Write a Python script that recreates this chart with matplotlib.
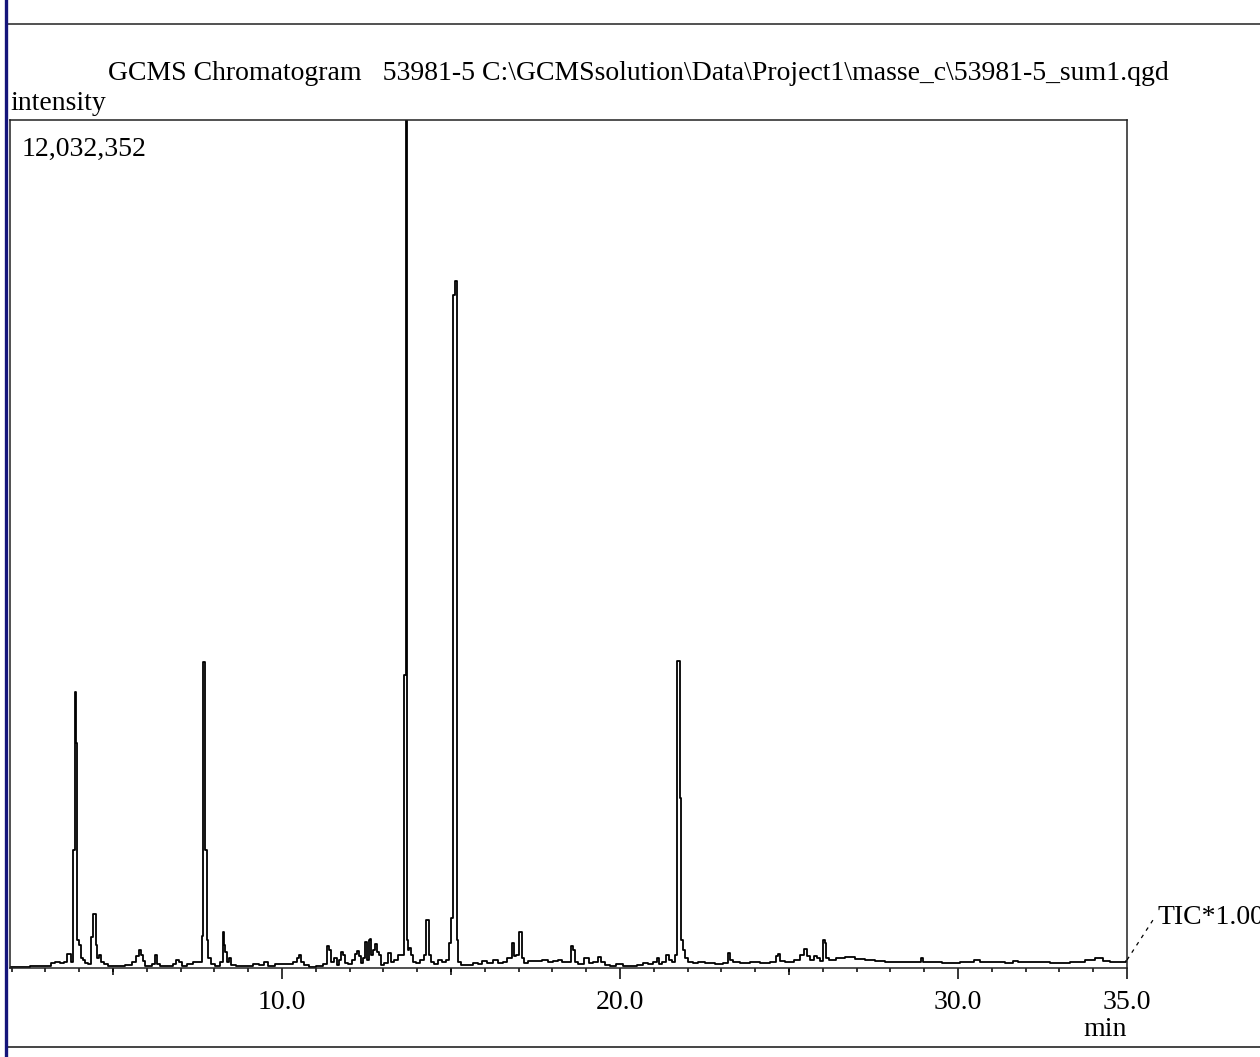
import matplotlib
matplotlib.use("Agg")
import matplotlib.pyplot as plt
from matplotlib.lines import Line2D
from matplotlib.ticker import FixedLocator, NullFormatter

# (retention time in min, TIC intensity)
trace = [
    (1.95, 14000), (3.14, 28000), (3.20, 71000), (3.37, 85000), (3.49, 71000),
    (3.61, 85000), (3.64, 199000), (3.73, 199000), (3.76, 85000), (3.79, 85000),
    (3.82, 1674000), (3.85, 1674000), (3.88, 3916000), (3.91, 3193000),
    (3.93, 3193000), (3.96, 397000), (4.02, 326000), (4.08, 142000),
    (4.14, 114000), (4.20, 71000), (4.32, 57000), (4.38, 440000), (4.41, 766000),
    (4.47, 766000), (4.50, 326000), (4.56, 142000), (4.62, 184000), (4.67, 85000),
    (4.79, 57000), (4.91, 28000), (5.21, 28000), (5.50, 43000), (5.62, 85000),
    (5.74, 170000), (5.80, 255000), (5.86, 184000), (5.92, 99000), (5.98, 28000),
    (6.09, 28000), (6.21, 57000), (6.27, 184000), (6.30, 57000), (6.45, 28000),
    (6.69, 28000), (6.83, 57000), (6.92, 114000), (6.98, 85000), (7.10, 28000),
    (7.28, 57000), (7.43, 85000), (7.57, 85000), (7.63, 85000), (7.66, 454000),
    (7.69, 4342000), (7.72, 1674000), (7.75, 1674000), (7.78, 397000),
    (7.84, 142000), (7.93, 57000), (8.11, 28000), (8.22, 85000), (8.28, 511000),
    (8.31, 326000), (8.34, 227000), (8.40, 85000), (8.46, 142000), (8.52, 43000),
    (8.76, 28000), (9.05, 28000), (9.23, 57000), (9.41, 43000), (9.53, 85000),
    (9.64, 28000), (9.94, 57000), (10.24, 57000), (10.41, 85000), (10.47, 142000),
    (10.53, 184000), (10.59, 85000), (10.71, 43000), (10.89, 14000),
    (11.12, 28000), (11.30, 57000), (11.36, 312000), (11.42, 255000),
    (11.48, 85000), (11.60, 142000), (11.66, 43000), (11.72, 114000),
    (11.78, 227000), (11.83, 184000), (11.89, 71000), (12.01, 57000),
    (12.13, 114000), (12.19, 199000), (12.25, 241000), (12.31, 170000),
    (12.37, 71000), (12.43, 142000), (12.49, 369000), (12.54, 114000),
    (12.60, 397000), (12.63, 411000), (12.66, 184000), (12.72, 255000),
    (12.78, 341000), (12.84, 227000), (12.90, 184000), (12.96, 43000),
    (13.08, 71000), (13.17, 213000), (13.25, 85000), (13.37, 114000),
    (13.49, 184000), (13.58, 184000), (13.61, 4157000), (13.64, 4157000),
    (13.67, 12032000), (13.70, 397000), (13.73, 255000), (13.79, 284000),
    (13.85, 184000), (13.91, 85000), (14.02, 71000), (14.14, 114000),
    (14.23, 184000), (14.29, 681000), (14.32, 681000), (14.35, 184000),
    (14.44, 85000), (14.56, 57000), (14.67, 114000), (14.79, 85000),
    (14.91, 114000), (14.97, 355000), (15.03, 709000), (15.06, 9549000),
    (15.09, 9549000), (15.12, 9748000), (15.15, 9748000), (15.18, 397000),
    (15.24, 85000), (15.33, 43000), (15.56, 43000), (15.74, 71000),
    (15.86, 57000), (15.98, 99000), (16.15, 71000), (16.33, 114000),
    (16.45, 71000), (16.60, 85000), (16.69, 142000), (16.78, 142000),
    (16.83, 355000), (16.89, 170000), (16.98, 184000), (17.07, 511000),
    (17.10, 142000), (17.22, 71000), (17.34, 99000), (17.63, 99000),
    (17.78, 114000), (17.93, 85000), (18.11, 99000), (18.22, 114000),
    (18.37, 85000), (18.52, 85000), (18.58, 312000), (18.64, 255000),
    (18.70, 85000), (18.82, 57000), (19.05, 142000), (19.11, 71000),
    (19.29, 85000), (19.38, 156000), (19.47, 85000), (19.64, 43000),
    (19.76, 28000), (20.00, 57000), (20.15, 28000), (20.44, 28000),
    (20.59, 43000), (20.74, 71000), (20.89, 57000), (21.04, 85000),
    (21.12, 142000), (21.18, 57000), (21.30, 85000), (21.42, 184000),
    (21.48, 114000), (21.60, 85000), (21.66, 184000), (21.72, 4356000),
    (21.75, 4356000), (21.78, 2412000), (21.80, 2412000), (21.83, 397000),
    (21.89, 255000), (21.95, 142000), (22.07, 85000), (22.25, 71000),
    (22.37, 85000), (22.66, 71000), (22.96, 57000), (23.14, 71000),
    (23.22, 213000), (23.28, 114000), (23.40, 85000), (23.70, 71000),
    (23.99, 85000), (24.29, 71000), (24.59, 85000), (24.64, 170000),
    (24.70, 199000), (24.76, 99000), (25.03, 85000), (25.27, 114000),
    (25.38, 184000), (25.50, 270000), (25.56, 170000), (25.68, 114000),
    (25.77, 170000), (25.86, 142000), (25.98, 99000), (26.04, 397000),
    (26.07, 355000), (26.12, 142000), (26.27, 114000), (26.51, 142000),
    (26.80, 156000), (27.10, 128000), (27.40, 114000), (27.69, 99000),
    (27.99, 85000), (28.28, 85000), (28.58, 85000), (28.88, 85000),
    (28.93, 142000), (28.99, 85000), (29.32, 85000), (29.76, 71000),
    (30.36, 85000), (30.59, 114000), (30.71, 85000), (31.24, 85000),
    (31.54, 71000), (31.72, 99000), (31.83, 85000), (32.43, 85000),
    (33.02, 71000), (33.61, 85000), (33.91, 114000), (34.20, 142000),
    (34.38, 99000), (34.62, 85000), (34.97, 85000), (35.00, 99000),
]
rt_min = [p[0] for p in trace]
tic = [p[1] for p in trace]

full_scale = 12032352
x_range = (1.95, 35.0)
major_ticks = [10.0, 20.0, 30.0, 35.0]
mid_ticks = [5.0, 15.0, 25.0]
minor_ticks = list(range(2, 36))

title = "GCMS Chromatogram   53981-5 C:\\GCMSsolution\\Data\\Project1\\masse_c\\53981-5_sum1.qgd"

W, H = 1260, 1057
plt.rcParams['font.family'] = ['Liberation Serif', 'DejaVu Serif']
FS = 20


def fx(px):
    return px / W


def fy(py):
    return 1 - py / H


fig = plt.figure(figsize=(W / 100, H / 100), dpi=100)
ax = fig.add_axes([fx(10), fy(968), fx(1127) - fx(10), fy(120) - fy(968)])

ax.plot(rt_min, tic, color='black', lw=1.3, drawstyle='steps-mid')
ax.set_xlim(*x_range)
ax.set_ylim(0, full_scale)

for s in ax.spines.values():
    s.set_color('#222222')
    s.set_linewidth(1.1)

ax.yaxis.set_visible(False)
ax.xaxis.set_major_locator(FixedLocator(major_ticks))
ax.xaxis.set_minor_locator(FixedLocator(minor_ticks))
ax.xaxis.set_minor_formatter(NullFormatter())
ax.set_xticklabels([f"{t:.1f}" for t in major_ticks])
ax.tick_params(axis='x', which='major', length=8, width=1.1, pad=8, labelsize=FS)
ax.tick_params(axis='x', which='minor', length=3, width=1.1)

sec = ax.secondary_xaxis('bottom')
sec.xaxis.set_major_locator(FixedLocator(mid_ticks))
sec.xaxis.set_major_formatter(NullFormatter())
sec.tick_params(length=5, width=1.1)
sec.spines['bottom'].set_visible(False)

ax.text(0.01, 0.965, f"{full_scale:,}", transform=ax.transAxes, fontsize=FS,
        ha='left', va='center')

fig.text(fx(108), fy(74), title, fontsize=FS, ha='left', va='center')
fig.text(fx(10), fy(104), "intensity", fontsize=FS, ha='left', va='center')
fig.text(fx(1105), fy(1030), "min", fontsize=FS, ha='center', va='center')
fig.text(fx(1158), fy(918), "TIC*1.00", fontsize=FS, ha='left', va='center')

# frame lines and TIC leader
fig.add_artist(Line2D([fx(1127), fx(1153)], [fy(960), fy(920)], color='black',
                      lw=0.9, ls=(0, (3, 4))))
fig.add_artist(Line2D([fx(8), 1], [fy(24), fy(24)], color='#222222', lw=1.1))
fig.add_artist(Line2D([fx(8), 1], [fy(1047), fy(1047)], color='#444444', lw=1.4))
fig.add_artist(Line2D([fx(6), fx(6)], [0, 1], color='#15157a', lw=2.4))

fig.savefig("out.png", dpi=100)
